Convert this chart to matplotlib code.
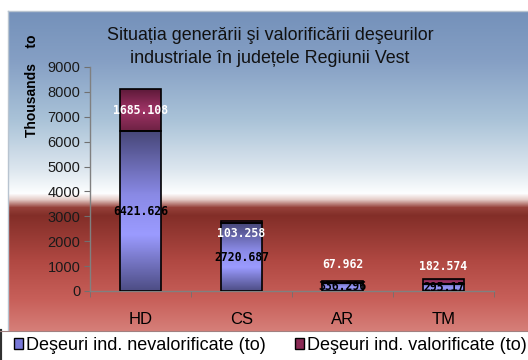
import numpy as np
import matplotlib
matplotlib.use("Agg")
import matplotlib.pyplot as plt
from matplotlib.colors import LinearSegmentedColormap
from matplotlib.patches import Rectangle

# ---- data -------------------------------------------------------------
categories = ["HD", "CS", "AR", "TM"]
nevalorificate = [6421.626, 2720.687, 336.296, 295.17]
valorificate = [1685.108, 103.258, 67.962, 182.574]
value_labels_bottom = ["6421.626", "2720.687", "336.296", "295.17"]
value_labels_top = ["1685.108", "103.258", "67.962", "182.574"]
yticks = [0, 1000, 2000, 3000, 4000, 5000, 6000, 7000, 8000, 9000]
series_names = ["Deşeuri ind. nevalorificate (to)", "Deşeuri ind. valorificate (to)"]
title = "Situația generării şi valorificării deşeurilor\nindustriale în județele Regiunii Vest"

# pixel nudges for the upper labels (relative to segment centre)
top_label_shift = [0, -11, 17, 15]

W, H, DPI = 528, 360, 100
fig = plt.figure(figsize=(W / DPI, H / DPI), dpi=DPI)
fig.patch.set_facecolor("white")
plt.rcParams["font.family"] = ["Liberation Sans", "DejaVu Sans"]


def fx(px):
    return px / W


def fy(py):
    return 1 - py / H


# ---- chart-area background gradient ----------------------------------
bg = fig.add_axes([fx(8), fy(331), fx(528 - 8), (331 - 11) / H], zorder=-5)
stops = [
    (11, (116, 145, 186)),
    (60, (133, 159, 196)),
    (120, (170, 195, 216)),
    (170, (222, 231, 239)),
    (193, (253, 254, 255)),
    (199, (230, 205, 200)),
    (207, (150, 65, 58)),
    (215, (130, 46, 40)),
    (260, (176, 72, 66)),
    (300, (200, 96, 90)),
    (331, (214, 128, 122)),
]
ys = np.arange(11, 331)
sp = np.array([s[0] for s in stops])
cols = np.array([s[1] for s in stops], float) / 255
grad = np.stack([np.interp(ys, sp, cols[:, i]) for i in range(3)], axis=-1)
bg.imshow(grad[:, None, :], aspect="auto", extent=[0, 1, 0, 1], interpolation="bilinear")
bg.set_xticks([])
bg.set_yticks([])
for s in ["right", "bottom"]:
    bg.spines[s].set_visible(False)
for s in ["left", "top"]:
    bg.spines[s].set_color("#b8c4d0")
    bg.spines[s].set_linewidth(1)

# ---- main axes --------------------------------------------------------
ax = fig.add_axes([fx(90), fy(291), fx(494 - 90), (291 - 67) / H])
ax.patch.set_alpha(0)

blue_cmap = LinearSegmentedColormap.from_list(
    "b", [(0.0, "#4e4e86"), (0.35, "#9b9bff"), (0.6, "#8a8ae6"), (1.0, "#48487a")])
red_cmap = LinearSegmentedColormap.from_list(
    "r", [(0.0, "#6e2244"), (0.5, "#a03466"), (1.0, "#5e1a3a")])

bw = 0.4
x = np.arange(len(categories))


def gradient_bar(xc, bottom, height, cmap):
    rect = Rectangle((xc - bw / 2, bottom), bw, height, facecolor="none",
                     edgecolor="black", linewidth=1.2, zorder=3)
    ax.add_patch(rect)
    g = np.linspace(0, 1, 64)[:, None]
    im = ax.imshow(g, cmap=cmap, aspect="auto", origin="lower",
                   extent=[xc - bw / 2, xc + bw / 2, bottom, bottom + height],
                   zorder=2, interpolation="bilinear")
    im.set_clip_path(rect)


for i in range(len(categories)):
    gradient_bar(x[i], 0, nevalorificate[i], blue_cmap)
    gradient_bar(x[i], nevalorificate[i], valorificate[i], red_cmap)

ax.set_xlim(-0.5, 3.5)
ax.set_ylim(0, 9000)

lab_font = dict(family="DejaVu Sans Mono", fontweight="bold", fontsize=8.3,
                ha="center", va="center", zorder=5)
for i in range(len(categories)):
    ax.annotate(value_labels_bottom[i], (x[i], nevalorificate[i] / 2),
                color="black", **lab_font)
    ax.annotate(value_labels_top[i],
                (x[i], nevalorificate[i] + valorificate[i] / 2),
                xytext=(0, top_label_shift[i]), textcoords="offset pixels",
                color="white", **lab_font)

ax.set_yticks(yticks)
ax.set_yticklabels([str(t) for t in yticks], fontsize=10.5, color="#1a1a1a")
ax.set_xticks(x)
ax.set_xticklabels(categories, fontsize=12, color="black")
ax.set_xticks(np.arange(-0.5, 4, 1), minor=True)
ax.tick_params(axis="x", which="major", length=0, pad=15)
ax.tick_params(axis="x", which="minor", length=4, color="#707070", direction="out")
ax.tick_params(axis="y", length=4, color="#707070", direction="out", pad=3)
for s in ["top", "right"]:
    ax.spines[s].set_visible(False)
for s in ["left", "bottom"]:
    ax.spines[s].set_color("#808080")
    ax.spines[s].set_linewidth(1)

ax.set_ylabel("Thousands    to", fontsize=10, fontweight="bold")
ax.yaxis.set_label_coords((39 - 90) / 404, (291 - 86) / 224)

fig.text(fx(270), fy(47), title, ha="center", va="center", fontsize=12.9,
         linespacing=1.45, color="#111111")

# ---- legend -----------------------------------------------------------
lg_ax = fig.add_axes([0, 0, 1, (360 - 331) / H], zorder=4)
lg_ax.set_xlim(0, W)
lg_ax.set_ylim(360, 331)
lg_ax.set_xticks([])
lg_ax.set_yticks([])
lg_ax.set_facecolor("white")
for s in ["right", "bottom"]:
    lg_ax.spines[s].set_visible(False)
lg_ax.spines["top"].set_color("#a08080")
lg_ax.spines["left"].set_color("#303030")
lg_ax.spines["left"].set_linewidth(3)

handles = [Rectangle((0, 0), 1, 1, facecolor="#7878d8", edgecolor="black", linewidth=1),
           Rectangle((0, 0), 1, 1, facecolor="#8a2a55", edgecolor="black", linewidth=1)]
leg = lg_ax.legend(handles, series_names, loc="center left",
                   bbox_to_anchor=(fx(14), 0.5),
                   ncol=2, frameon=False, fontsize=13, handlelength=0.5,
                   handleheight=0.5, handletextpad=0.15, columnspacing=1.65,
                   borderaxespad=0.0, borderpad=0.0)

fig.savefig("out.png", dpi=DPI)
